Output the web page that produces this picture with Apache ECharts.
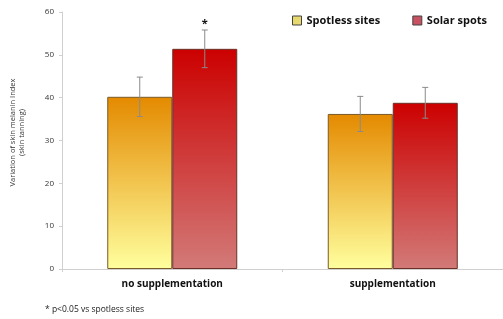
<!DOCTYPE html>
<html>
<head>
<meta charset="utf-8">
<script src="https://cdn.jsdelivr.net/npm/echarts@6/dist/echarts.min.js"></script>
<style>
  html, body { margin: 0; padding: 0; background: #fff; }
  #chart { width: 503px; height: 319px; }
</style>
</head>
<body>
<div id="chart"></div>
<script>
const categories = ['no supplementation', 'supplementation']
const spotless = [40.2, 36.2]
const spotlessErr = [4.6, 4.1]
const solar = [51.4, 38.8]
const solarErr = [4.4, 3.6]
const signif = ['*', '']
const yTicks = [0, 10, 20, 30, 40, 50, 60]

;(function () {
  let myChart = echarts.init(document.getElementById('chart'))
  const font = 'Open Sans, Liberation Sans, sans-serif'
  const barW = 65

  // error bars: vertical line with small caps
  function errorItem(side) {
    return function (params, api) {
      const x = api.value(0)
      const hi = api.coord([x, api.value(1) + api.value(2)])
      const lo = api.coord([x, api.value(1) - api.value(2)])
      const cx = hi[0] + side * barW / 2
      const cap = 3
      const style = { stroke: '#8a8a8a', lineWidth: 1 }
      return {
        type: 'group',
        children: [
          { type: 'line', shape: { x1: cx, y1: hi[1], x2: cx, y2: lo[1] }, style },
          { type: 'line', shape: { x1: cx - cap, y1: hi[1], x2: cx + cap, y2: hi[1] }, style },
          { type: 'line', shape: { x1: cx - cap, y1: lo[1], x2: cx + cap, y2: lo[1] }, style },
          {
            type: 'text',
            style: {
              x: cx, y: hi[1] - 1, text: side > 0 ? signif[params.dataIndex] : '',
              fill: '#111', font: 'bold 11px ' + font, align: 'center', verticalAlign: 'bottom'
            }
          }
        ]
      }
    }
  }

  const orangeGrad = new echarts.graphic.LinearGradient(0, 0, 0, 1, [
    { offset: 0, color: '#e48a00' },
    { offset: 1, color: '#ffff9e' }
  ])
  const redGrad = new echarts.graphic.LinearGradient(0, 0, 0, 1, [
    { offset: 0, color: '#cc0000' },
    { offset: 1, color: '#d27a78' }
  ])

  let options = {
    animation: false,
    grid: {
      left: 60,
      right: -9,
      top: 12,
      bottom: 50
    },
    legend: {
      top: 10,
      left: 287,
      itemGap: 32,
      itemWidth: 9,
      itemHeight: 9,
      textStyle: { fontFamily: font, fontWeight: 'bold', fontSize: 11, color: '#111' },
      data: [
        { name: 'Spotless sites', icon: 'rect', itemStyle: { color: '#e8d870', borderColor: '#444', borderWidth: 1 } },
        { name: 'Solar spots', icon: 'rect', itemStyle: { color: '#c85060', borderColor: '#444', borderWidth: 1 } }
      ]
    },
    xAxis: {
      type: 'category',
      data: categories,
      axisLine: { lineStyle: { color: '#d0d0d0' } },
      axisTick: { show: true, length: 3, lineStyle: { color: '#d0d0d0' } },
      axisLabel: { fontFamily: font, fontWeight: 'bold', fontSize: 10, color: '#111', margin: 10 }
    },
    yAxis: {
      type: 'value',
      min: 0,
      max: 60,
      interval: 10,
      name: 'Variation of skin melanin Index\n(skin tanning)',
      nameLocation: 'middle',
      nameGap: 36,
      nameRotate: 90,
      nameTextStyle: { fontFamily: font, fontSize: 7.5, color: '#333', lineHeight: 9, padding: [0, 0, 0, 16] },
      axisLine: { show: true, lineStyle: { color: '#d0d0d0' } },
      axisTick: { show: true, length: 3, lineStyle: { color: '#d0d0d0' } },
      splitLine: { show: false },
      axisLabel: {
        fontFamily: font, fontSize: 8, color: '#333', margin: 8,
        formatter: v => (yTicks.indexOf(v) >= 0 ? String(v) : '')
      }
    },
    graphic: [
      {
        type: 'text',
        left: 45,
        top: 305,
        style: { text: '* p<0.05 vs spotless sites', font: '8.5px ' + font, fill: '#222' }
      }
    ],
    series: [
      {
        name: 'Spotless sites',
        type: 'bar',
        data: spotless,
        barWidth: barW,
        barGap: '0%',
        itemStyle: { color: orangeGrad, borderColor: '#7a5a28', borderWidth: 1 }
      },
      {
        name: 'Solar spots',
        type: 'bar',
        data: solar,
        barWidth: barW,
        barGap: '0%',
        itemStyle: { color: redGrad, borderColor: '#6a3028', borderWidth: 1 }
      },
      {
        type: 'custom',
        renderItem: errorItem(-1),
        data: categories.map((c, i) => [i, spotless[i], spotlessErr[i]]),
        z: 5
      },
      {
        type: 'custom',
        renderItem: errorItem(1),
        data: categories.map((c, i) => [i, solar[i], solarErr[i]]),
        z: 5
      }
    ]
  }
  myChart.setOption(options)
  window.addEventListener('resize', () => {
    myChart.resize()
  })
})()
</script>
</body>
</html>
